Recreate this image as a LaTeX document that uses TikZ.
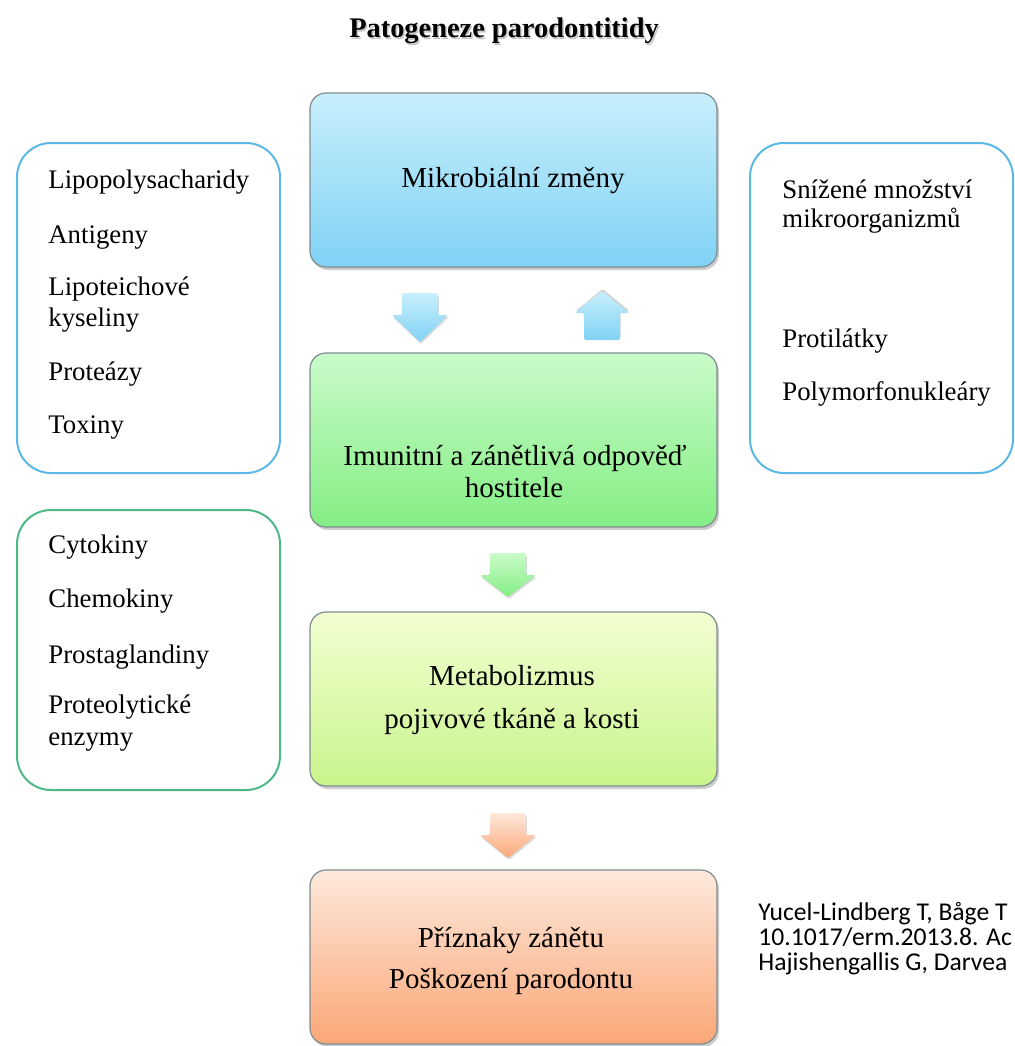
\documentclass[tikz,border=0pt]{standalone}
\usepackage{fontspec}
\setmainfont{Liberation Serif}
\newfontfamily\refsans{Carlito}
\usetikzlibrary{shadows}

% box and arrow colours (light top, deeper bottom)
\definecolor{blueA}{HTML}{C8EFFC}
\definecolor{blueB}{HTML}{80D2F5}
\definecolor{greenA}{HTML}{C9FBC9}
\definecolor{greenB}{HTML}{84EE84}
\definecolor{limeA}{HTML}{F2FFD2}
\definecolor{limeB}{HTML}{C9F48C}
\definecolor{peachA}{HTML}{FDE9DC}
\definecolor{peachB}{HTML}{FBA777}
\definecolor{sideblue}{HTML}{5AB8E6}
\definecolor{sidegreen}{HTML}{4FB888}
\definecolor{rimgray}{HTML}{7F8C92}

\tikzset{
  mainbox/.style={draw=rimgray, line width=0.6pt, rounded corners=8pt,
    minimum width=203.5pt, minimum height=87pt, inner sep=0pt,
    drop shadow={shadow xshift=1pt, shadow yshift=-1.5pt, opacity=0.4}},
  sidebox/.style={draw, line width=1pt, rounded corners=17pt,
    minimum width=131.5pt, inner sep=0pt, fill=white},
  boxtext/.style={anchor=base, font=\fontsize{14.5}{17}\selectfont, inner sep=0pt},
  item/.style={anchor=base west, font=\fontsize{13.4}{16}\selectfont, inner sep=0pt},
  reftext/.style={anchor=base west, font=\refsans\fontsize{12.8}{15}\selectfont, inner sep=0pt},
  blockarrow/.style={rounded corners=0.8pt,
    drop shadow={shadow xshift=0.4pt, shadow yshift=-1pt, opacity=0.3}},
  uparrowstyle/.style={rounded corners=0.8pt,
    drop shadow={shadow xshift=0.3pt, shadow yshift=1pt, opacity=0.35}}
}

% block arrow pointing down: x, top, head base, tip, colour prefix
\newcommand\arrowdown[5]{%
  \shade[blockarrow, top color=#5A, bottom color=#5B]
    (#1-18,#2) -- (#1+18,#2) -- (#1+18,#3) -- (#1+28,#3) -- (#1,#4)
    -- (#1-28,#3) -- (#1-18,#3) -- cycle;}
% block arrow pointing up: x, bottom, head base, tip, colour prefix
\newcommand\arrowup[5]{%
  \shade[uparrowstyle, top color=#5A, bottom color=#5B]
    (#1-18,#2) -- (#1+18,#2) -- (#1+18,#3) -- (#1+27,#3) -- (#1,#4)
    -- (#1-27,#3) -- (#1-18,#3) -- cycle;}

\begin{document}
\begin{tikzpicture}[x=0.5pt, y=-0.5pt]
\useasboundingbox (0,0) rectangle (1015,1046);
\clip (0,0) rectangle (1015,1046);

% title with soft shadow
\node[anchor=base, inner sep=0pt, font=\bfseries\fontsize{14.2}{17}\selectfont,
      text=black!45, opacity=0.5] (titleshadow) at (505.5,39.5) {Patogeneze parodontitidy};
\node[anchor=base, inner sep=0pt, font=\bfseries\fontsize{14.2}{17}\selectfont]
      (title) at (504,37) {Patogeneze parodontitidy};

% main chain of boxes
\node[mainbox, top color=blueA, bottom color=blueB] (b1) at (513.5,180) {};
\node[mainbox, top color=greenA, bottom color=greenB] (b2) at (513.5,440) {};
\node[mainbox, top color=limeA, bottom color=limeB] (b3) at (513.5,699) {};
\node[mainbox, top color=peachA, bottom color=peachB] (b4) at (513.5,957) {};

\node[boxtext] (t11) at (513,187) {Mikrobiální změny};
\node[boxtext] (t21) at (515,465) {Imunitní a zánětlivá odpověď};
\node[boxtext] (t22) at (514,497) {hostitele};
\node[boxtext] (t31) at (512,685) {Metabolizmus};
\node[boxtext] (t32) at (512,728) {pojivové tkáně a kosti};
\node[boxtext] (t41) at (511,947) {Příznaky zánětu};
\node[boxtext] (t42) at (511,988) {Poškození parodontu};

% block arrows between the boxes
\arrowdown{420}{293}{315}{342}{blue}
\arrowup{602}{340}{313}{291}{blue}
\arrowdown{508}{553}{575}{597}{green}
\arrowdown{508}{813}{835}{858}{peach}

% side lists
\node[sidebox, draw=sideblue, minimum height=165pt] (l1) at (148.5,308) {};
\node[item] (l11) at (48,188) {Lipopolysacharidy};
\node[item] (l12) at (48,243) {Antigeny};
\node[item] (l13) at (48,295) {Lipoteichové};
\node[item] (l14) at (48,326) {kyseliny};
\node[item] (l15) at (48,380) {Proteázy};
\node[item] (l16) at (48,433) {Toxiny};

\node[sidebox, draw=sideblue, minimum height=165pt] (r1) at (881.5,308) {};
\node[item] (r11) at (782,198) {Snížené množství};
\node[item] (r12) at (782,227) {mikroorganizmů};
\node[item] (r13) at (782,347) {Protilátky};
\node[item] (r14) at (782,400) {Polymorfonukleáry};

\node[sidebox, draw=sidegreen, minimum height=140pt] (l2) at (148.5,650) {};
\node[item] (l21) at (48,553) {Cytokiny};
\node[item] (l22) at (48,607) {Chemokiny};
\node[item] (l23) at (48,663) {Prostaglandiny};
\node[item] (l24) at (48,713) {Proteolytické};
\node[item] (l25) at (48,745) {enzymy};

% reference lines at the right edge
\node[reftext] (ref1) at (758,920) {Yucel-Lindberg T, Båge T};
\node[reftext] (ref2) at (758,945) {10.1017/erm.2013.8. Ac};
\node[reftext] (ref3) at (758,970) {Hajishengallis G, Darvea};
\end{tikzpicture}
\end{document}
